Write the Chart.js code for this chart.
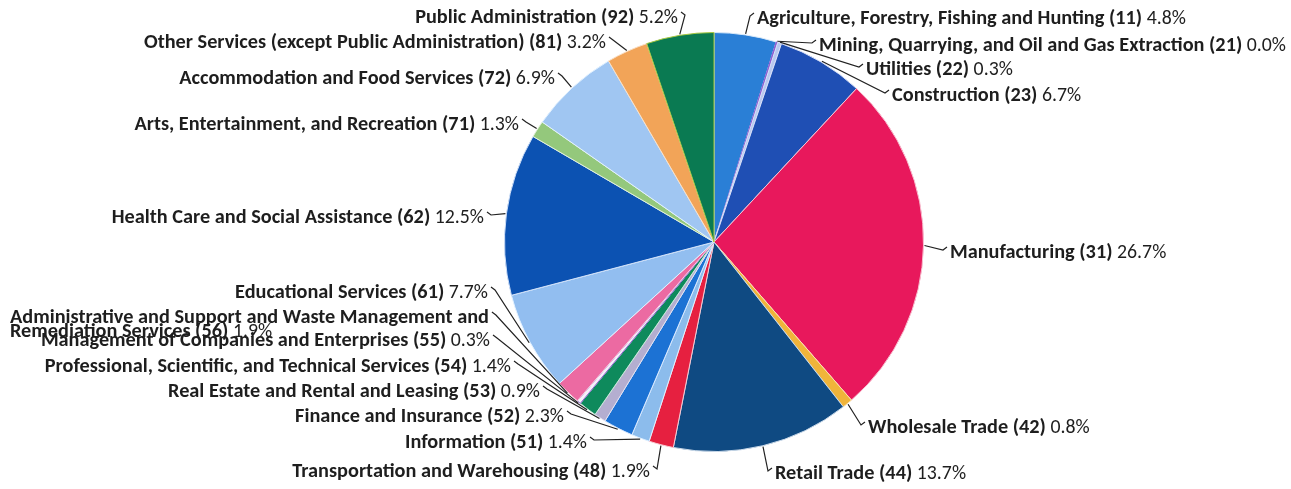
<!DOCTYPE html>
<html>
<head>
<meta charset="utf-8">
<script src="https://cdn.jsdelivr.net/npm/chart.js@4.4.1/dist/chart.umd.min.js"></script>
<style>
html,body{margin:0;padding:0;background:#fff;}
#wrap{position:relative;width:1291px;height:489px;}
</style>
</head>
<body>
<div id="wrap"><canvas id="c" width="1291" height="489"></canvas></div>
<script>
// ---- data ----
const categories = [
  "Agriculture, Forestry, Fishing and Hunting (11)",
  "Mining, Quarrying, and Oil and Gas Extraction (21)",
  "Utilities (22)",
  "Construction (23)",
  "Manufacturing (31)",
  "Wholesale Trade (42)",
  "Retail Trade (44)",
  "Transportation and Warehousing (48)",
  "Information (51)",
  "Finance and Insurance (52)",
  "Real Estate and Rental and Leasing (53)",
  "Professional, Scientific, and Technical Services (54)",
  "Management of Companies and Enterprises (55)",
  "Administrative and Support and Waste Management and Remediation Services (56)",
  "Educational Services (61)",
  "Health Care and Social Assistance (62)",
  "Arts, Entertainment, and Recreation (71)",
  "Accommodation and Food Services (72)",
  "Other Services (except Public Administration) (81)",
  "Public Administration (92)"
];
const shares = [4.8, 0.0, 0.3, 6.7, 26.7, 0.8, 13.7, 1.9, 1.4, 2.3, 0.9, 1.4, 0.3, 1.9, 7.7, 12.5, 1.3, 6.9, 3.2, 5.2];
const shareLabels = ["4.8%","0.0%","0.3%","6.7%","26.7%","0.8%","13.7%","1.9%","1.4%","2.3%","0.9%","1.4%","0.3%","1.9%","7.7%","12.5%","1.3%","6.9%","3.2%","5.2%"];

// ---- styles / layout ----
const colors = ["#2a7fd6","#8a5ad0","#b8c8f0","#1f4fb4","#e8185c","#f0b43a","#0f4a82","#e62040","#8cbcec","#1c72d4","#b4aed0","#0e8a5c","#f4f0f8","#ec6aa2","#92bef0","#0c52b2","#94c87c","#a0c6f2","#f2a458","#0a7a52"];
const borderCols = ["#d8e8f8","#8a5ad0","#d8e0f8","#d8e0f8","#f8c0d0","#f8e0b0","#c8d8e8","#f8c8d0","#e0f0ff","#d8e8ff","#e0e0f0","#c8e8d8","#8a5ad0","#f8d0e0","#e0f0ff","#d0e0f8","#e0f0d8","#e0f0ff","#f8e0c8","#a8c840"];
// label anchors: [x, y, align]
const labelPos = [
  [757,19,"left"],[819,46,"left"],[866,70,"left"],[892,96,"left"],
  [950,253,"left"],[868,428,"left"],[775,474,"left"],
  [650,472,"right"],[587,443,"right"],[564,417,"right"],[540,392,"right"],
  [511,367,"right"],[490,341,"right"],[10,318,"multi"],[488,293,"right"],
  [484,218,"right"],[519,125,"right"],[555,79,"right"],[606,43,"right"],[678,18,"right"]
];

const BOLD = "bold 20.3px Carlito, Lato, 'Open Sans', sans-serif";
const REG = "19.8px Carlito, Lato, 'Open Sans', sans-serif";

const labelPlugin = {
  id: "outlabels",
  afterDatasetsDraw(chart) {
    const ctx = chart.ctx;
    const arcs = chart.getDatasetMeta(0).data;
    ctx.save();
    ctx.textBaseline = "middle";
    arcs.forEach((arc, i) => {
      const [lx, ly, al] = labelPos[i];
      const name = categories[i] + " ";
      const pct = shareLabels[i];
      let endX, endY;
      ctx.fillStyle = "#1e1e1e";
      if (al === "multi") {
        const l1 = "Administrative and Support and Waste Management and";
        const l2 = "Remediation Services (56) ";
        ctx.font = BOLD;
        ctx.textAlign = "left";
        ctx.fillText(l1, lx, ly);
        ctx.fillText(l2, lx, ly + 14);
        const w1 = ctx.measureText(l1).width;
        const w2 = ctx.measureText(l2).width;
        ctx.font = REG;
        ctx.fillText(pct, lx + w2, ly + 14);
        endX = lx + w1 + 3; endY = ly;
      } else {
        ctx.font = BOLD;
        const wn = ctx.measureText(name).width;
        ctx.font = REG;
        const wp = ctx.measureText(pct).width;
        const x0 = al === "left" ? lx : lx - wn - wp;
        ctx.textAlign = "left";
        ctx.font = BOLD;
        ctx.fillText(name, x0, ly);
        ctx.font = REG;
        ctx.fillText(pct, x0 + wn, ly);
        endX = al === "left" ? x0 - 3 : x0 + wn + wp + 3;
        endY = ly;
      }
      // leader line to slice edge
      const mid = (arc.startAngle + arc.endAngle) / 2;
      const r = arc.outerRadius + 1;
      const px = arc.x + Math.cos(mid) * r;
      const py = arc.y + Math.sin(mid) * r;
      ctx.strokeStyle = "#222";
      ctx.lineWidth = 1.2;
      ctx.beginPath();
      const dir = al === "left" ? -1 : 1;
      ctx.moveTo(endX, endY - 6);
      ctx.lineTo(endX + dir * 4, endY - 3);
      ctx.lineTo(px, py);
      ctx.stroke();
    });
    ctx.restore();
  }
};

new Chart(document.getElementById("c"), {
  type: "pie",
  data: {
    labels: categories,
    datasets: [{
      data: shares.map(v => v === 0 ? 0.12 : v),
      backgroundColor: colors,
      borderColor: borderCols,
      borderWidth: 1
    }]
  },
  options: {
    responsive: false,
    animation: false,
    rotation: 0,
    layout: { padding: { left: 300, right: 163, top: 32, bottom: 37 } },
    plugins: { legend: { display: false }, tooltip: { enabled: false } }
  },
  plugins: [labelPlugin]
});
</script>
</body>
</html>
